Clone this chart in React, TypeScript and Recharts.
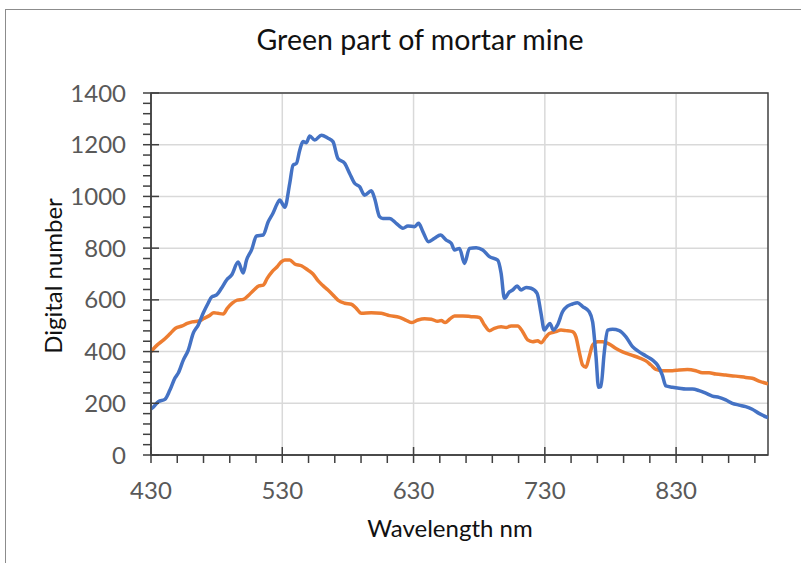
import { LineChart, Line, XAxis, YAxis, CartesianGrid, ReferenceArea } from 'recharts';

// blue series (wavelength nm / digital number)
const blueNm = [
  430, 431, 435.6, 440.6, 444.4, 448.3, 450.8, 454.6, 458.4, 462.2, 466, 469.8, 473.6, 476.2, 480,
  483.8, 487.6, 491.4, 496.4, 500.2, 502.8, 506.6, 510.4, 515.4, 519.2, 523, 526.8, 528.1, 530.6,
  531.9, 535.7, 538.2, 540.8, 543.3, 545.8, 548.4, 550.9, 554.7, 559.8, 564.8, 568.6, 572.4, 577.5,
  581.3, 585.1, 588.9, 592.7, 597.8, 600.3, 604.1, 606.6, 611.7, 616.8, 621.9, 625.7, 630.8, 633.8,
  637.1, 641.4, 646, 650.5, 654.9, 658.7, 661.2, 665, 668.8, 672.6, 677.7, 682.7, 687.8, 694.1,
  696.7, 699.2, 703, 705.5, 708.9, 711.9, 715.7, 719.5, 724.1, 727.1, 729.6, 731.5, 733.9, 736.5,
  739.7, 743.5, 747.3, 751.1, 754.9, 758.8, 763.8, 766.4, 769, 770.9, 772.7, 775.2, 777.8, 781.6,
  786.7, 791.8, 796.8, 801.9, 807, 812.1, 815.8, 819.5, 822.2, 827.2, 832.3, 837.4, 842.4, 847.5,
  852.6, 857.6, 862.7, 867.8, 872.8, 877.9, 883, 888, 893.1, 900,
];
const blueVal = [
  178, 182, 206, 215, 251, 298, 317, 367, 406, 471, 503, 549, 588, 611, 619,
  646, 677, 696, 746, 704, 754, 793, 847, 851, 901, 936, 978, 986, 967,
  958, 1051, 1121, 1128, 1179, 1212, 1208, 1234, 1218, 1237, 1225, 1212, 1147, 1128,
  1089, 1051, 1038, 1005, 1022, 993, 922, 915, 915, 896, 877, 886, 883, 896,
  864, 825, 838, 851, 831, 819, 793, 799, 741, 799, 802, 793, 767, 754,
  703, 606, 631, 638, 654, 638, 648, 645, 625, 548, 483, 495, 509, 483,
  503, 554, 576, 584, 589, 574, 554, 515, 380, 262, 264, 393, 483, 486,
  481, 457, 419, 399, 383, 367, 348, 309, 267, 262, 258, 255, 255, 249,
  239, 228, 223, 213, 200, 193, 187, 177, 161, 144,
];

// orange series
const orangeNm = [
  430, 434.6, 439.6, 444.9, 448.7, 453.8, 457.6, 461.4, 466.5, 470.3, 474.1, 477.9, 481, 485,
  488.1, 491.9, 495.7, 500.3, 504.6, 508.4, 512.2, 515.5, 518.5, 522.3, 526.1, 529, 531.9, 535.7,
  539.5, 544.6, 549.6, 553.4, 557.2, 561, 564.8, 568.6, 572.4, 577.5, 582.6, 586.4, 590.2, 597.8,
  605.4, 611.7, 619.3, 624, 628.3, 633.3, 638.4, 643.5, 648.5, 651.1, 654.1, 657.4, 661.2, 667.5,
  673.9, 680.2, 684, 687.8, 691.6, 696.7, 700.5, 704.3, 709.3, 713.1, 716.9, 720.7, 724.5, 727.1,
  730.9, 733.4, 738.5, 742.3, 746.1, 751.1, 753.7, 756.2, 758.8, 761.3, 763.8, 766.4, 770.2, 774,
  779.1, 784.2, 789.2, 795.6, 801.9, 807, 810.8, 814.6, 819.6, 827.2, 832.3, 838.6, 845, 850,
  855.1, 860.2, 867.8, 875.4, 883, 888, 893.1, 900,
];
const orangeVal = [
  400, 425, 445, 471, 490, 499, 509, 515, 518, 528, 538, 550, 548, 545,
  567, 587, 599, 602, 619, 638, 654, 657, 683, 709, 728, 746, 754, 754,
  739, 732, 715, 700, 674, 655, 638, 619, 599, 587, 583, 567, 548, 550,
  548, 539, 532, 522, 512, 522, 527, 525, 517, 520, 512, 525, 538, 538,
  535, 532, 503, 481, 490, 496, 493, 499, 499, 477, 445, 438, 442, 434,
  457, 470, 477, 483, 481, 477, 457, 399, 348, 339, 380, 425, 438, 438,
  429, 412, 399, 387, 376, 364, 348, 331, 326, 326, 329, 331, 326, 318,
  318, 313, 309, 305, 300, 297, 286, 275,
];

const xLabels = [430, 530, 630, 730, 830];
const xMinor = [430, 450, 470, 490, 510, 530, 550, 570, 590, 610, 630, 650, 670, 690, 710, 730, 750, 770, 790, 810, 830, 850, 870, 890];
const xGrid = [530, 630, 730, 830];
const yLabels = [0, 200, 400, 600, 800, 1000, 1200, 1400];
const yMinor = [
  0, 40, 80, 120, 160, 200, 240, 280, 320, 360, 400, 440, 480, 520, 560, 600, 640, 680, 720, 760,
  800, 840, 880, 920, 960, 1000, 1040, 1080, 1120, 1160, 1200, 1240, 1280, 1320, 1360, 1400,
];

const blueData = blueNm.map((nm, i) => ({ nm, value: blueVal[i] }));
const orangeData = orangeNm.map((nm, i) => ({ nm, value: orangeVal[i] }));

const FONT = 'Lato, "Open Sans", sans-serif';
const AXIS = '#404040';

const XTick = (props: any) => {
  const { x, y, payload } = props;
  const major = xLabels.includes(payload.value);
  return (
    <g>
      <line x1={x} x2={x} y1={major ? y - 8 : y} y2={y + 8} stroke={AXIS} strokeWidth={1.5} />
      {major && (
        <text x={x} y={y + 44} textAnchor="middle" fill="#595959" fontSize={24} fontFamily={FONT}>
          {payload.value}
        </text>
      )}
    </g>
  );
};

const YTick = (props: any) => {
  const { x, y, payload } = props;
  const major = yLabels.includes(payload.value);
  return (
    <g>
      <line x1={x - 8} x2={major ? x + 8 : x} y1={y} y2={y} stroke={AXIS} strokeWidth={1.5} />
      {major && (
        <text x={x - 25} y={y} dy="0.36em" textAnchor="end" fill="#595959" fontSize={24} fontFamily={FONT}>
          {payload.value}
        </text>
      )}
    </g>
  );
};

export default function App() {
  return (
    <div style={{ position: 'absolute', left: 0, top: 0, width: 801, height: 563, overflow: 'hidden', background: '#fff', fontFamily: FONT }}>
      <div style={{ position: 'absolute', left: 5, top: 9, width: 1000, height: 1000, border: '1px solid #8c8c8c' }} />
      <div style={{ position: 'absolute', left: 0, width: 840, top: 22, textAlign: 'center', fontSize: 28.5, color: '#111' }}>
        Green part of mortar mine
      </div>
      <LineChart
        width={801}
        height={563}
        data={blueData}
        margin={{ top: 93, right: 33, left: 91, bottom: 48 }}
        style={{ position: 'absolute', left: 0, top: 0 }}
      >
        <CartesianGrid stroke="#d9d9d9" strokeWidth={1.5} horizontalValues={yLabels} verticalValues={xGrid} />
        <ReferenceArea x1={430} x2={900} y1={0} y2={1400} fill="none" stroke={AXIS} strokeWidth={1.5} />
        <XAxis
          dataKey="nm"
          type="number"
          domain={[430, 900]}
          ticks={xMinor}
          interval={0}
          height={60}
          tickSize={0}
          tickMargin={0}
          tickLine={false}
          tick={<XTick />}
          axisLine={{ stroke: AXIS, strokeWidth: 1.5 }}
          allowDataOverflow
        />
        <YAxis
          type="number"
          domain={[0, 1400]}
          ticks={yMinor}
          interval={0}
          width={60}
          tickSize={0}
          tickMargin={0}
          tickLine={false}
          tick={<YTick />}
          axisLine={{ stroke: AXIS, strokeWidth: 1.5 }}
        />
        <Line data={orangeData} dataKey="value" type="monotone" stroke="#ED7D31" strokeWidth={3.5} dot={false} isAnimationActive={false} />
        <Line data={blueData} dataKey="value" type="monotone" stroke="#4472C4" strokeWidth={3.5} dot={false} isAnimationActive={false} />
      </LineChart>
      <div style={{ position: 'absolute', left: 0, width: 900, top: 513, textAlign: 'center', fontSize: 24, color: '#111' }}>
        Wavelength nm
      </div>
      <div
        style={{
          position: 'absolute',
          left: 52,
          top: 276,
          transform: 'translate(-50%, -50%) rotate(-90deg)',
          whiteSpace: 'nowrap',
          fontSize: 24,
          color: '#111',
        }}
      >
        Digital number
      </div>
    </div>
  );
}
